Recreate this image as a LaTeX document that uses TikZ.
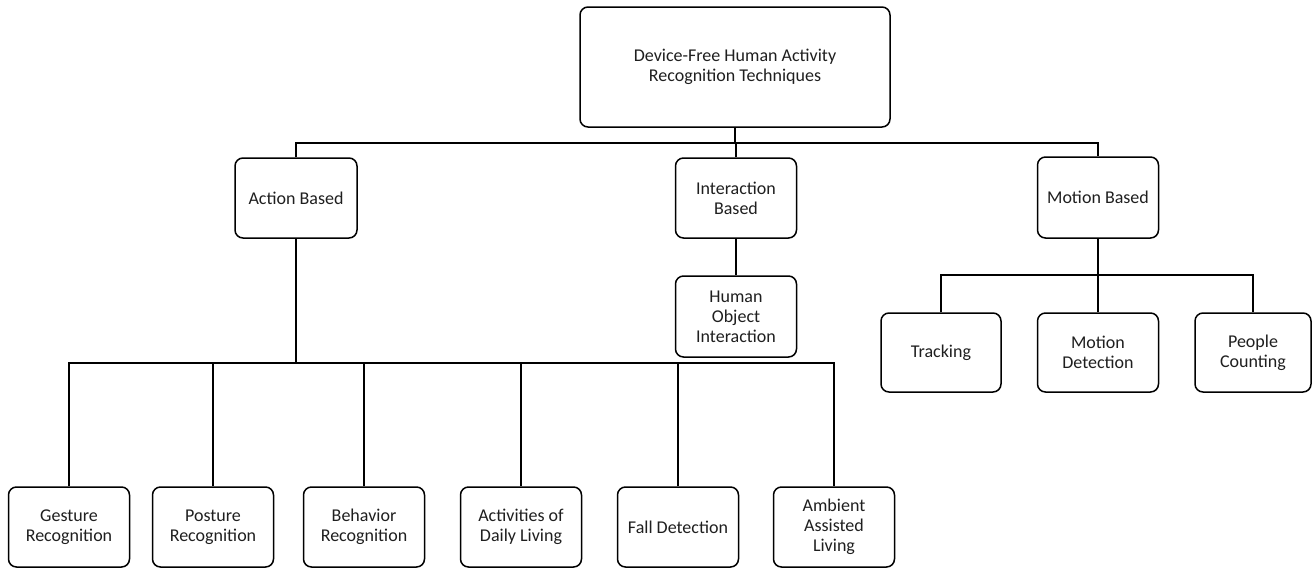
\documentclass[tikz,border=0pt]{standalone}
\usepackage{fontspec}
\setmainfont{Carlito}
\begin{document}
\begin{tikzpicture}[x=1pt,y=-1pt,
  box/.style={draw=black,line width=1.5pt,rounded corners=8pt,align=center,
    inner sep=0pt,minimum width=121pt,minimum height=80pt,
    font=\fontsize{18}{20}\selectfont,text=black!88},
  conn/.style={draw=black,line width=1.5pt}]
\useasboundingbox[fill=white] (0,0) rectangle (1312,568);
% nodes
\node[box,minimum width=310pt,minimum height=120pt] (top) at (735,67) {Device-Free Human Activity\\Recognition Techniques};
\node[box,minimum width=122pt] (action) at (296,198) {Action Based};
\node[box] (inter) at (736,198) {Interaction\\Based};
\node[box,minimum height=81pt] (motion) at (1098,197.5) {Motion Based};
\node[box,minimum height=81pt] (hoi) at (736,316.5) {Human\\Object\\Interaction};
\node[box,minimum width=120pt,minimum height=79pt] (track) at (941,352.5) {Tracking};
\node[box,minimum height=79pt] (mdet) at (1098,352.5) {Motion\\Detection};
\node[box,minimum width=116pt,minimum height=79pt] (people) at (1253,352.5) {People\\Counting};
\node[box] (gesture) at (69,527) {Gesture\\Recognition};
\node[box] (posture) at (213,527) {Posture\\Recognition};
\node[box] (behavior) at (364,527) {Behavior\\Recognition};
\node[box] (adl) at (521,527) {Activities of\\Daily Living};
\node[box] (fall) at (678,527) {Fall Detection};
\node[box] (ambient) at (834,527) {Ambient\\Assisted\\Living};
% bus coordinates
\coordinate (b1) at (0,143);
\coordinate (b2) at (0,275);
\coordinate (b3) at (0,363);
% connectors level 1
\draw[conn] (top.south) -- (top.south |- b1);
\draw[conn] (action.north) |- (motion.north |- b1) -- (motion.north);
\draw[conn] (inter.north) -- (inter.north |- b1);
% interaction
\draw[conn] (inter.south) -- (hoi.north);
% motion
\draw[conn] (motion.south) -- (motion.south |- b2);
\draw[conn] (track.north) |- (people.north |- b2) -- (people.north);
\draw[conn] (mdet.north) -- (mdet.north |- b2);
% action
\draw[conn] (action.south) -- (action.south |- b3);
\draw[conn] (gesture.north) |- (ambient.north |- b3) -- (ambient.north);
\draw[conn] (posture.north) -- (posture.north |- b3);
\draw[conn] (behavior.north) -- (behavior.north |- b3);
\draw[conn] (adl.north) -- (adl.north |- b3);
\draw[conn] (fall.north) -- (fall.north |- b3);
\end{tikzpicture}
\end{document}
